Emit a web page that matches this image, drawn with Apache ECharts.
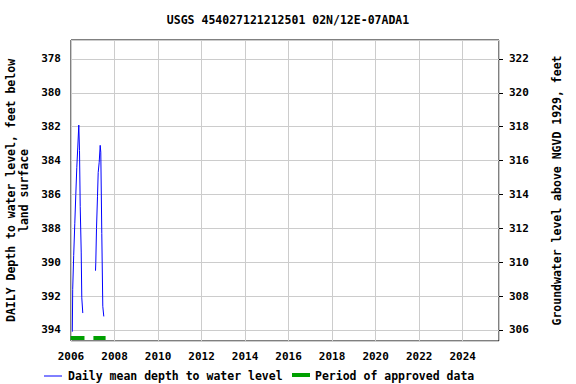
<!DOCTYPE html>
<html><head><meta charset="utf-8">
<script src="https://cdn.jsdelivr.net/npm/echarts@6/dist/echarts.min.js"></script>
<style>html,body{margin:0;padding:0;background:#fff}#c{width:576px;height:384px}</style>
</head><body><div id="c"></div>
<script>
const titleText = 'USGS 454027121212501 02N/12E-07ADA1';
const leftAxisName = 'DAILY Depth to water level, feet below\nland surface';
const rightAxisName = 'Groundwater level above NGVD 1929, feet';
const legendNames = ['Daily mean depth to water level', 'Period of approved data'];

// Segment 1 (2006)
const seg1Years = [2006.060, 2006.078, 2006.124, 2006.175, 2006.221, 2006.267, 2006.312, 2006.358, 2006.391, 2006.423, 2006.469, 2006.496, 2006.542];
const seg1Depth = [394.1, 391.6, 389.6, 387.7, 386.0, 384.4, 383.2, 381.9, 383.4, 386.7, 389.4, 392.1, 393.0];
// Segment 2 (2007)
const seg2Years = [2007.126, 2007.140, 2007.172, 2007.218, 2007.250, 2007.296, 2007.342, 2007.369, 2007.415, 2007.461, 2007.507];
const seg2Depth = [390.5, 390.0, 388.0, 386.1, 384.7, 384.1, 383.1, 383.5, 388.3, 392.6, 393.2];

// Approved data periods
const approvedStart = [2005.98, 2007.03];
const approvedEnd = [2006.62, 2007.59];
const approvedDepth = 394.47;

const depthMin = 376.88, depthMax = 394.65;
const datumOffset = 700; // elevation = 700 - depth
const yearMin = 2006, yearMax = 2025.67;

const lineData = [];
seg1Years.forEach((y, i) => lineData.push([y, seg1Depth[i]]));
lineData.push([ (seg1Years[seg1Years.length-1] + seg2Years[0]) / 2, null ]);
seg2Years.forEach((y, i) => lineData.push([y, seg2Depth[i]]));

const apprData = [];
approvedStart.forEach((s, i) => {
  if (i > 0) apprData.push([(approvedEnd[i-1] + s) / 2, null]);
  apprData.push([s, approvedDepth]);
  apprData.push([approvedEnd[i], approvedDepth]);
});

const FONT = 'DejaVu Sans Mono';
const chart = echarts.init(document.getElementById('c'), null, {renderer: 'svg'});
chart.setOption({
  animation: false,
  backgroundColor: '#fff',
  title: {
    text: titleText, left: 'center', top: 9,
    textStyle: {fontFamily: FONT, fontWeight: 'bold', fontSize: 11.5, color: '#000'}
  },
  grid: {left: 71, right: 77, top: 40, bottom: 43, show: true, borderColor: '#000', borderWidth: 1, backgroundColor: 'transparent',
    containLabel: false, outerBoundsMode: 'none'},
  xAxis: {
    type: 'value', min: yearMin, max: yearMax, interval: 2,
    axisLine: {show: false}, axisTick: {show: false},
    splitLine: {show: true, lineStyle: {color: '#cccccc', width: 1}},
    axisLabel: {showMaxLabel: false, margin: 10, fontFamily: FONT, fontWeight: 'bold', fontSize: 11, color: '#000',
      formatter: v => String(Math.round(v))}
  },
  yAxis: [{
    type: 'value', min: depthMin, max: depthMax, inverse: true, splitNumber: 9,
    name: leftAxisName, nameLocation: 'middle', nameRotate: 90, nameGap: 40,
    nameTextStyle: {fontFamily: FONT, fontWeight: 'bold', fontSize: 11.5, color: '#000', lineHeight: 13},
    axisLine: {show: false}, axisTick: {show: false},
    splitLine: {show: true, lineStyle: {color: '#cccccc', width: 1}},
    axisLabel: {showMinLabel: false, showMaxLabel: false, margin: 10, fontFamily: FONT, fontWeight: 'bold', fontSize: 11, color: '#000',
      formatter: v => String(Math.round(v))}
  }, {
    type: 'value', min: datumOffset - depthMax, max: datumOffset - depthMin, splitNumber: 9, position: 'right',
    name: rightAxisName, nameLocation: 'middle', nameRotate: 90, nameGap: 52,
    nameTextStyle: {fontFamily: FONT, fontWeight: 'bold', fontSize: 11.5, color: '#000'},
    axisLine: {show: false}, axisTick: {show: true, inside: false, length: 4, lineStyle: {color: '#000'}},
    splitLine: {show: false},
    axisLabel: {showMinLabel: false, showMaxLabel: false, margin: 10, fontFamily: FONT, fontWeight: 'bold', fontSize: 11, color: '#000',
      formatter: v => String(Math.round(v))}
  }],
  series: [{
    name: legendNames[0], type: 'line', yAxisIndex: 0, data: lineData, showSymbol: false, connectNulls: false,
    lineStyle: {color: '#0000ff', width: 1}, itemStyle: {color: '#0000ff'}
  }, {
    name: legendNames[1], type: 'line', yAxisIndex: 0, data: apprData, showSymbol: false, connectNulls: false,
    lineStyle: {color: '#00a000', width: 4}, itemStyle: {color: '#00a000'}
  }],
  graphic: [
    {type: 'line', shape: {x1: 44, y1: 376, x2: 62, y2: 376}, style: {stroke: '#0000ff', lineWidth: 1}},
    {type: 'text', left: 68, top: 370, style: {text: legendNames[0], font: 'bold 11.5px "DejaVu Sans Mono"', fill: '#000'}},
    {type: 'line', shape: {x1: 292, y1: 375, x2: 310, y2: 375}, style: {stroke: '#00a000', lineWidth: 4}},
    {type: 'text', left: 315, top: 370, style: {text: legendNames[1], font: 'bold 11.5px "DejaVu Sans Mono"', fill: '#000'}}
  ]
});
</script></body></html>
